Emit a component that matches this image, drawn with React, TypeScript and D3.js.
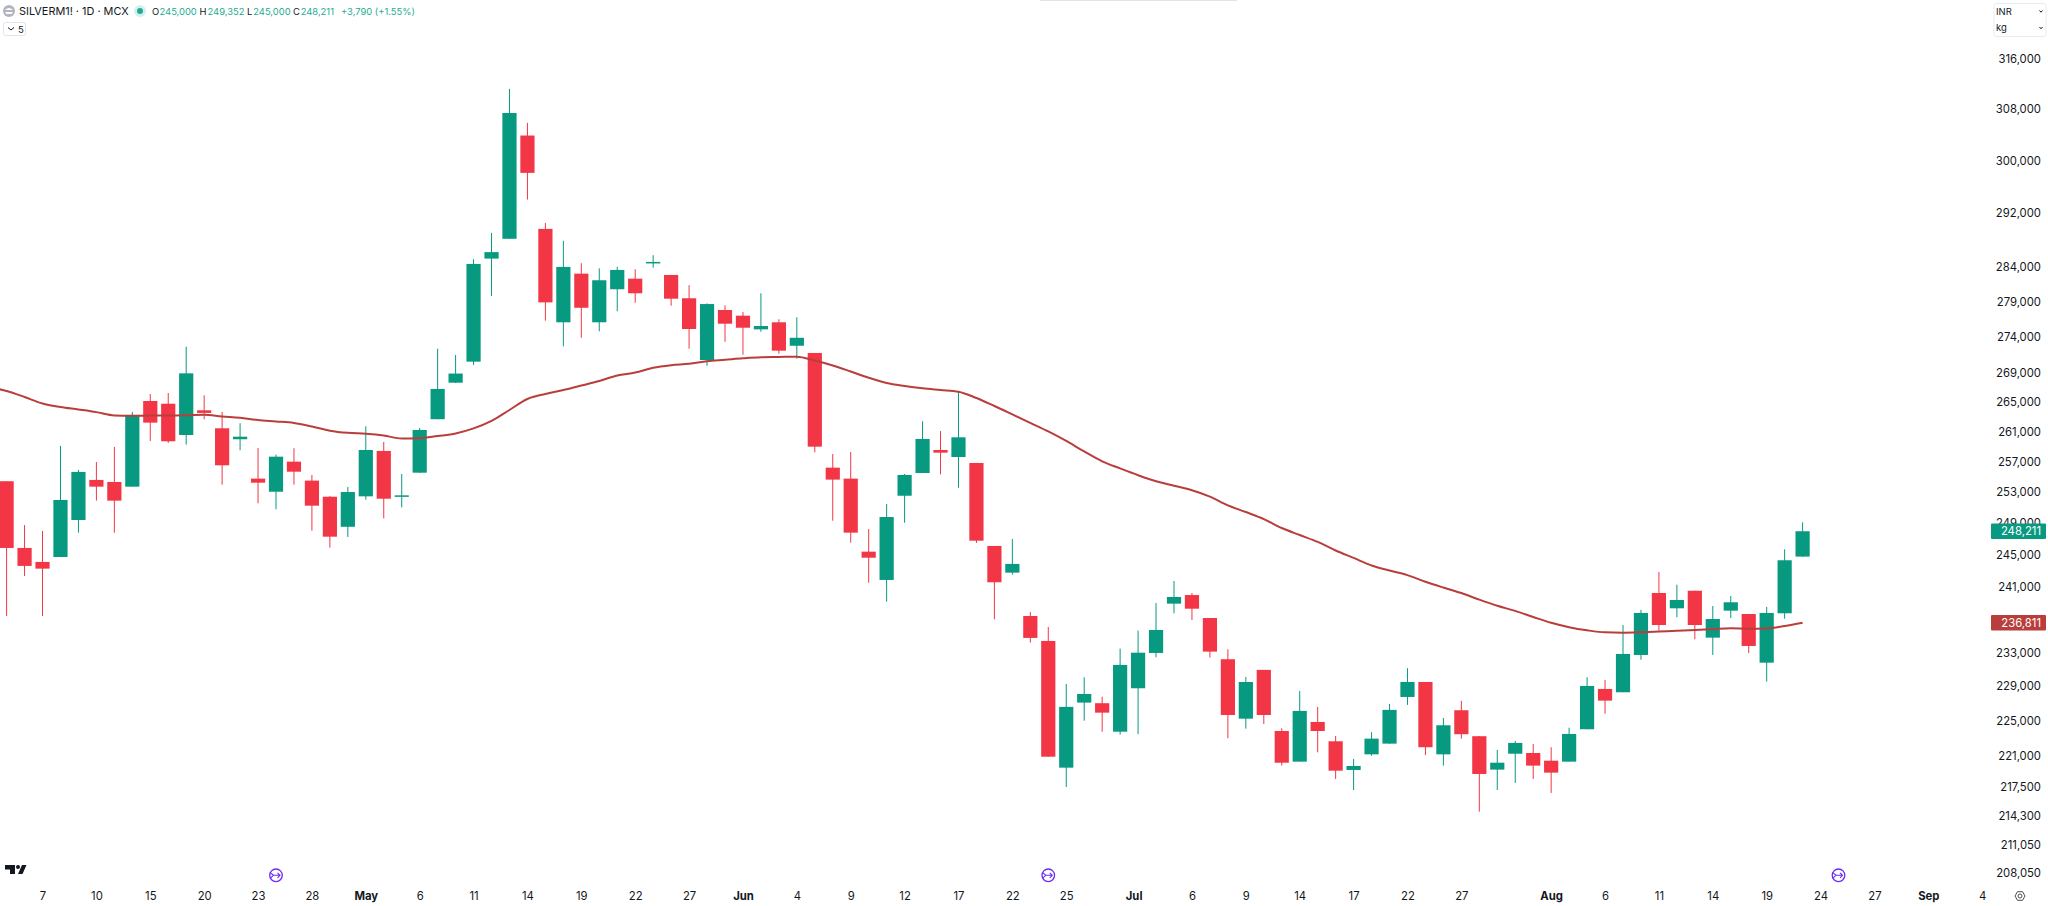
import { useEffect, useRef } from "react";
import * as d3 from "d3";

const opens = [
  254670, 246090, 244330, 244950, 249650, 254840, 254570, 253960, 265380, 265010,
  260790, 264120, 261690, 260220, 255010, 253300, 257240, 254750, 252650, 248780,
  252700, 258660, 252650, 255790, 262910, 267890, 270800, 285520, 288440, 304150,
  289910, 276330, 283320, 276330, 281060, 282590, 284840, 283130, 279760, 271030,
  278080, 277270, 275330, 276330, 273020, 272010, 256450, 255010, 245620, 242080,
  252780, 255750, 258790, 257860, 257070, 246340, 242990, 237640, 234610, 219830,
  227300, 227230, 223930, 228980, 233170, 239150, 240210, 237390, 232420, 225430,
  231150, 224010, 220510, 225050, 222830, 219570, 221340, 222560, 227960, 229720,
  221340, 226410, 223410, 219610, 221410, 221490, 220620, 220510, 224210, 228900,
  228510, 232930, 240460, 238580, 240740, 235010, 238290, 237880, 232010, 237970,
  245000,
];
const highs = [
  254670, 249000, 248240, 259330, 256150, 257200, 259190, 263890, 266340, 266480,
  272890, 266160, 263890, 262370, 259060, 258170, 259020, 255490, 252740, 253920,
  261960, 259860, 255620, 261730, 272610, 271730, 285430, 289320, 311530, 306130,
  290800, 288140, 284840, 284100, 284300, 283960, 286020, 283130, 281640, 279030,
  278740, 277790, 280480, 276760, 277040, 272010, 258260, 258530, 248490, 251710,
  255620, 262630, 261320, 266750, 257070, 246340, 247230, 238130, 236300, 229490,
  230280, 228000, 233690, 235860, 239230, 241950, 240460, 237390, 233610, 230320,
  231150, 224320, 228660, 226800, 223440, 220810, 223870, 227150, 231350, 229720,
  225510, 227500, 223440, 221840, 222870, 222520, 222150, 224390, 230280, 229960,
  236540, 238380, 243080, 241490, 240740, 238860, 240090, 237880, 238750, 245920,
  249352,
];
const lows = [
  237640, 242580, 237640, 244950, 248030, 252140, 248030, 253960, 259990, 259720,
  259500, 262900, 254220, 258750, 251800, 251030, 254220, 248280, 246130, 247480,
  252260, 249860, 251280, 255750, 262910, 267850, 270340, 280090, 288440, 294310,
  276560, 272940, 274140, 275050, 277890, 279120, 284190, 278690, 272610, 270240,
  273580, 271770, 274990, 271910, 271210, 258480, 249560, 246760, 241740, 239390,
  249300, 255750, 255580, 253820, 246720, 237230, 242740, 234410, 221070, 217660,
  225200, 223930, 223590, 223640, 232660, 237970, 237150, 232610, 223180, 224280,
  224820, 220060, 220510, 221570, 218560, 217320, 221180, 222560, 227030, 221260,
  220060, 223130, 214920, 217320, 218110, 218560, 216990, 220510, 224210, 226010,
  228510, 232370, 235860, 237480, 234820, 232930, 237390, 233170, 229760, 237310,
  245000,
];
const closes = [
  246090, 243830, 243490, 252230, 255890, 253960, 252140, 263490, 262450, 259950,
  269180, 263760, 256760, 260560, 254480, 257900, 255920, 251490, 247520, 253260,
  258790, 252390, 252830, 261460, 267030, 269150, 284740, 286470, 307690, 298370,
  279170, 284300, 278400, 282360, 283860, 280480, 285030, 279700, 275380, 278930,
  276130, 275560, 275800, 272330, 274140, 259230, 254880, 248030, 244860, 250030,
  255490, 260260, 258430, 260480, 247010, 241790, 244080, 234980, 221070, 226800,
  228310, 226130, 231740, 233200, 235940, 239970, 238530, 233330, 225860, 229720,
  225860, 220390, 226330, 224010, 219490, 220020, 223130, 226450, 229720, 222150,
  224670, 223640, 219120, 220390, 222640, 220060, 219270, 223670, 229250, 227530,
  233050, 238010, 236540, 239600, 236540, 237270, 239320, 234010, 238010, 244540,
  248211,
];
// the line comes in from the bar just off the left edge, then one value per bar
const maBeforeFirstBar = 267300;
const maValues = [
  266750, 265930, 265040, 264570, 264230, 263870, 263420, 263380, 263410, 263420,
  263450, 263520, 263290, 263120, 262790, 262610, 262410, 261930, 261370, 261080,
  260960, 260720, 260320, 260350, 260650, 260990, 261670, 262680, 264160, 265660,
  266340, 266890, 267510, 268120, 268880, 269290, 269960, 270310, 270500, 270850,
  271050, 271260, 271410, 271450, 271490, 270960, 270260, 269430, 268580, 267850,
  267440, 267120, 266890, 266660, 265790, 264700, 263560, 262410, 261260, 259990,
  258590, 257290, 256350, 255460, 254670, 254090, 253500, 252660, 251540, 250670,
  249770, 248620, 247730, 246850, 245770, 244830, 243890, 243260, 242680, 241860,
  241140, 240460, 239640, 238890, 238260, 237520, 236810, 236280, 235900, 235650,
  235610, 235660, 235750, 235840, 235930, 236040, 236140, 236080, 236120, 236420,
  236811,
];

const priceTicks = [
  316000, 308000, 300000, 292000, 284000, 279000, 274000, 269000, 265000, 261000,
  257000, 253000, 249000, 245000, 241000, 233000, 229000, 225000, 221000, 217500,
  214300, 211050, 208050,
];
const dateTickBars = [
  2, 5, 8, 11, 14, 17, 20, 23, 26, 29, 32, 35, 38, 41, 44, 47, 50, 53, 56, 59, 62.75,
  66, 69, 72, 75, 78, 81, 86, 89, 92, 95, 98, 101, 104, 107, 110,
];
const dateTickLabels = [
  "7", "10", "15", "20", "23", "28", "May", "6", "11", "14", "19", "22", "27", "Jun",
  "4", "9", "12", "17", "22", "25", "Jul", "6", "9", "14", "17", "22", "27", "Aug",
  "6", "11", "14", "19", "24", "27", "Sep", "4",
];
const eventBars = [15, 58, 102];

const GREEN = "#089981";
const RED = "#f23645";
const MA_RED = "#b93e3b";
const FONT = "Inter, 'Noto Sans', sans-serif";

export default function App() {
  const svgRef = useRef<SVGSVGElement>(null);

  useEffect(() => {
    if (!svgRef.current) return;
    const svg = d3.select(svgRef.current);
    svg.selectAll("*").remove();

    const x = d3.scaleLinear().domain([0, 100]).range([6.6, 1802.6]);
    const y = d3.scaleLog().domain([316000, 208050]).range([61.1, 874.9]);
    const bars = d3.range(opens.length);
    const bodyWidth = 14.2;

    svg.attr("font-family", FONT);

    // thin strip at the top edge
    svg.append("rect").attr("x", 1040).attr("y", 0).attr("width", 197).attr("height", 1).attr("fill", "#e0e3eb");

    // wicks
    svg
      .append("g")
      .selectAll("line")
      .data(bars)
      .join("line")
      .attr("x1", (i) => x(i))
      .attr("x2", (i) => x(i))
      .attr("y1", (i) => y(highs[i]))
      .attr("y2", (i) => y(lows[i]))
      .attr("stroke", (i) => (closes[i] >= opens[i] ? GREEN : RED))
      .attr("stroke-width", 1);

    // bodies
    svg
      .append("g")
      .selectAll("rect")
      .data(bars)
      .join("rect")
      .attr("x", (i) => x(i) - bodyWidth / 2)
      .attr("width", bodyWidth)
      .attr("y", (i) => y(Math.max(opens[i], closes[i])))
      .attr("height", (i) => Math.max(1.5, Math.abs(y(opens[i]) - y(closes[i]))))
      .attr("fill", (i) => (closes[i] >= opens[i] ? GREEN : RED));

    // moving average
    const maLine = d3
      .line<number>()
      .x((_, i) => x(i - 1))
      .y((d) => y(d))
      .curve(d3.curveMonotoneX);
    svg
      .append("path")
      .attr("d", maLine([maBeforeFirstBar, ...maValues]))
      .attr("fill", "none")
      .attr("stroke", MA_RED)
      .attr("stroke-width", 2);

    // price axis
    const priceAxis = svg
      .append("g")
      .attr("transform", "translate(2041,0)")
      .call(
        d3
          .axisRight(y)
          .tickValues(priceTicks)
          .tickSize(0)
          .tickFormat((d) => d3.format(",")(d as number)),
      );
    priceAxis.select(".domain").remove();
    priceAxis
      .selectAll("text")
      .attr("x", 0)
      .attr("y", -1.8)
      .attr("text-anchor", "end")
      .attr("font-family", FONT)
      .attr("font-size", 11.3)
      .attr("fill", "#131722");

    // last value tags
    const tags = [
      { value: closes[closes.length - 1], color: GREEN },
      { value: maValues[maValues.length - 1], color: MA_RED },
    ];
    tags.forEach((t) => {
      svg
        .append("rect")
        .attr("x", 1991)
        .attr("y", y(t.value) - 7.8)
        .attr("width", 55)
        .attr("height", 15.6)
        .attr("rx", 1)
        .attr("fill", t.color);
      svg
        .append("text")
        .attr("x", 2041)
        .attr("y", y(t.value))
        .attr("dy", "0.35em")
        .attr("text-anchor", "end")
        .attr("font-size", 11.3)
        .attr("fill", "#fff")
        .text(d3.format(",")(t.value));
    });

    // date axis
    const dateAxis = svg
      .append("g")
      .attr("transform", "translate(0,885)")
      .call(
        d3
          .axisBottom(x)
          .tickValues(dateTickBars)
          .tickSize(0)
          .tickPadding(0)
          .tickFormat((_, i) => dateTickLabels[i]),
      );
    dateAxis.select(".domain").remove();
    dateAxis
      .selectAll("text")
      .attr("y", 11)
      .attr("dy", "0.35em")
      .attr("font-family", FONT)
      .attr("font-size", 11.3)
      .attr("fill", "#131722")
      .attr("font-weight", (_, i) => (/[A-Z]/.test(dateTickLabels[i]) ? 700 : 400));

    // event markers
    eventBars.forEach((b) => {
      const g = svg.append("g").attr("transform", `translate(${x(b)},875.3)`);
      g.append("circle").attr("r", 6.3).attr("fill", "#fff").attr("stroke", "#6a2cf5").attr("stroke-width", 1.3);
      g.append("path")
        .attr("d", "M-6 -3 L-2.5 0 L-6 3 M-2.5 0 H4 M1.5 -2.5 L4 0 L1.5 2.5")
        .attr("fill", "none")
        .attr("stroke", "#6a2cf5")
        .attr("stroke-width", 1.1);
    });

    // chart logo
    svg.append("path").attr("d", "M5 865 H15 V874 H10 V869.5 H5 Z M22 865 H26.5 L22.5 874 H18 Z").attr("fill", "#131722");
    svg.append("circle").attr("cx", 18).attr("cy", 867).attr("r", 2).attr("fill", "#131722");

    // settings icon
    const gear = svg.append("g").attr("transform", "translate(2020,896)").attr("fill", "none").attr("stroke", "#4a4d57");
    gear.append("path").attr("d", "M-5 0 L-2.5 -4.3 H2.5 L5 0 L2.5 4.3 H-2.5 Z");
    gear.append("circle").attr("r", 2);

    // header
    svg.append("circle").attr("cx", 9).attr("cy", 11).attr("r", 6).attr("fill", "#b2b5be");
    svg.append("path").attr("d", "M5 10 Q9 6 13 10 Z M5 12 H13 L11.5 14 H6.5 Z").attr("fill", "#fff");
    svg.append("text").attr("x", 19).attr("y", 15).attr("font-size", 10.9).attr("fill", "#131722").text("SILVERM1! · 1D · MCX");
    svg.append("circle").attr("cx", 140).attr("cy", 11).attr("r", 6).attr("fill", "#d3f1ec");
    svg.append("circle").attr("cx", 140).attr("cy", 11).attr("r", 3).attr("fill", "#22ab94");

    const legend = [
      { key: "O", keyX: 152, valueX: 159.5, value: "245,000" },
      { key: "H", keyX: 199.5, valueX: 207.5, value: "249,352" },
      { key: "L", keyX: 247, valueX: 253.3, value: "245,000" },
      { key: "C", keyX: 293, valueX: 300.7, value: "248,211" },
    ];
    legend.forEach((l) => {
      svg.append("text").attr("x", l.keyX).attr("y", 15).attr("font-size", 9.4).attr("fill", "#131722").text(l.key);
      svg.append("text").attr("x", l.valueX).attr("y", 15).attr("font-size", 9.4).attr("fill", "#22ab94").text(l.value);
    });
    svg.append("text").attr("x", 341).attr("y", 15).attr("font-size", 9.4).attr("fill", "#22ab94").text("+3,790 (+1.55%)");

    // collapse button
    svg.append("rect").attr("x", 3.5).attr("y", 22.5).attr("width", 22).attr("height", 13).attr("rx", 2).attr("fill", "#fff").attr("stroke", "#e0e3eb");
    svg.append("path").attr("d", "M8 27.5 L11 30 L14 27.5").attr("fill", "none").attr("stroke", "#131722");
    svg.append("text").attr("x", 18).attr("y", 32.5).attr("font-size", 9.5).attr("fill", "#131722").text("5");

    // currency and unit box
    svg.append("rect").attr("x", 1994).attr("y", 3.5).attr("width", 52).attr("height", 33).attr("rx", 2).attr("fill", "#fff").attr("stroke", "#e9ebf0");
    [
      { label: "INR", cy: 11.5 },
      { label: "kg", cy: 28 },
    ].forEach((r) => {
      svg.append("text").attr("x", 1996).attr("y", r.cy).attr("dy", "0.35em").attr("font-size", 9.5).attr("fill", "#131722").text(r.label);
      svg
        .append("path")
        .attr("d", `M2039.5 ${r.cy - 1} L2041 ${r.cy + 0.7} L2042.5 ${r.cy - 1}`)
        .attr("fill", "none")
        .attr("stroke", "#131722");
    });
  }, []);

  return (
    <svg
      ref={svgRef}
      width={2048}
      height={906}
      style={{ position: "absolute", left: 0, top: 0, display: "block", background: "#fff" }}
    ></svg>
  );
}
